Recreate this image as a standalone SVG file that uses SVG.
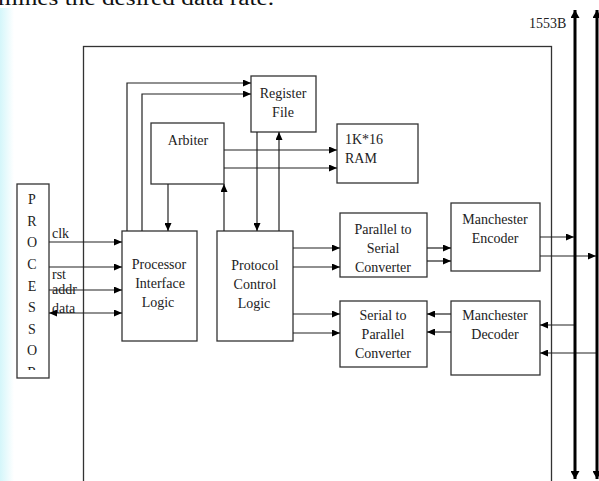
<svg xmlns="http://www.w3.org/2000/svg" width="599" height="481" viewBox="0 0 599 481">
<defs>
<marker id="ah" markerWidth="8" markerHeight="7" refX="8" refY="3.5" orient="auto-start-reverse" markerUnits="userSpaceOnUse"><path d="M0,0 L8,3.5 L0,7 Z" fill="#000"/></marker>
<marker id="bh" markerWidth="8" markerHeight="9" refX="8" refY="4.5" orient="auto-start-reverse" markerUnits="userSpaceOnUse"><path d="M0,0 L8,4.5 L0,9 Z" fill="#000"/></marker>
<linearGradient id="cy" x1="0" x2="1" y1="0" y2="0"><stop offset="0" stop-color="#d4f6fa"/><stop offset="1" stop-color="#ffffff"/></linearGradient>
<clipPath id="pc"><rect x="17" y="184" width="32" height="186"/></clipPath>
</defs>
<style>
.box{fill:#fff;stroke:#333;stroke-width:1.3}
.t{font-family:"Liberation Serif","Times New Roman",serif;font-size:14px;fill:#222;text-anchor:middle}
.tl{font-family:"Liberation Serif","Times New Roman",serif;font-size:14px;fill:#222}
.c{fill:none;stroke:#222;stroke-width:1.2}
.bus{fill:none;stroke:#000;stroke-width:3}
</style>
<rect x="0" y="8" width="14" height="473" fill="url(#cy)"/>
<text x="-2" y="5" font-family="Liberation Serif, serif" font-size="20" fill="#111" textLength="276" lengthAdjust="spacingAndGlyphs">mines the desired data rate.</text>
<rect id="outer" x="83.5" y="46.5" width="468" height="440" fill="none" stroke="#333" stroke-width="1.3"/>
<text class="tl" x="529" y="28" font-size="13">1553B</text>
<g id="processor">
<rect class="box" x="17" y="184" width="32" height="194"/>
<g clip-path="url(#pc)" class="t">
<text x="32" y="204">P</text><text x="32" y="226">R</text><text x="32" y="247">O</text><text x="32" y="269">C</text><text x="32" y="291">E</text><text x="32" y="312">S</text><text x="32" y="334">S</text><text x="32" y="355">O</text><text x="32" y="377">R</text>
</g>
</g>
<g id="pil"><rect class="box" x="122" y="231" width="75" height="110"/>
<text class="t" x="159" y="269">Processor</text><text class="t" x="160" y="288">Interface</text><text class="t" x="158" y="307">Logic</text></g>
<g id="regfile"><rect class="box" x="251" y="76" width="65" height="56"/>
<text class="t" x="283" y="98">Register</text><text class="t" x="283" y="117">File</text></g>
<g id="arbiter"><rect class="box" x="151" y="123" width="73" height="61"/>
<text class="t" x="188" y="145">Arbiter</text></g>
<g id="ram"><rect class="box" x="337" y="124" width="81" height="59"/>
<text class="tl" x="345" y="144">1K*16</text><text class="tl" x="345" y="163">RAM</text></g>
<g id="pcl"><rect class="box" x="217" y="231" width="76" height="110"/>
<text class="t" x="255" y="270">Protocol</text><text class="t" x="255" y="289">Control</text><text class="t" x="254" y="308">Logic</text></g>
<g id="p2s"><rect class="box" x="340" y="213" width="87" height="64"/>
<text class="t" x="383" y="234">Parallel to</text><text class="t" x="383" y="253">Serial</text><text class="t" x="383" y="272">Converter</text></g>
<g id="s2p"><rect class="box" x="340" y="301" width="87" height="66"/>
<text class="t" x="383" y="320">Serial to</text><text class="t" x="383" y="339">Parallel</text><text class="t" x="383" y="358">Converter</text></g>
<g id="menc"><rect class="box" x="451" y="203" width="89" height="68"/>
<text class="t" x="495" y="224">Manchester</text><text class="t" x="495" y="243">Encoder</text></g>
<g id="mdec"><rect class="box" x="451" y="301" width="89" height="74"/>
<text class="t" x="495" y="320">Manchester</text><text class="t" x="495" y="339">Decoder</text></g>
<g id="labels">
<text class="tl" x="52" y="238">clk</text><text class="tl" x="52" y="279">rst</text><text class="tl" x="52" y="294">addr</text><text class="tl" x="52" y="313">data</text>
</g>
<g id="connectors">
<path class="c" d="M49,242 H122" marker-end="url(#ah)"/>
<path class="c" d="M49,267 H122" marker-end="url(#ah)"/>
<path class="c" d="M49,290 H122" marker-end="url(#ah)"/>
<path class="c" d="M49,313 H122" marker-start="url(#ah)" marker-end="url(#ah)"/>
<path class="c" d="M127,231 V83 H251" marker-end="url(#ah)"/>
<path class="c" d="M142,231 V94 H251" marker-end="url(#ah)"/>
<path class="c" d="M168,184 V231" marker-end="url(#ah)"/>
<path class="c" d="M224,231 V184" marker-end="url(#ah)"/>
<path class="c" d="M224,150 H337" marker-end="url(#ah)"/>
<path class="c" d="M224,168 H337" marker-end="url(#ah)"/>
<path class="c" d="M257,132 V231" marker-end="url(#ah)"/>
<path class="c" d="M279,231 V132" marker-end="url(#ah)"/>
<path class="c" d="M293,248 H340" marker-end="url(#ah)"/>
<path class="c" d="M293,267 H340" marker-end="url(#ah)"/>
<path class="c" d="M293,314 H340" marker-end="url(#ah)"/>
<path class="c" d="M293,333 H340" marker-end="url(#ah)"/>
<path class="c" d="M427,248 H451" marker-end="url(#ah)"/>
<path class="c" d="M427,261 H451" marker-end="url(#ah)"/>
<path class="c" d="M451,314 H427" marker-end="url(#ah)"/>
<path class="c" d="M451,332 H427" marker-end="url(#ah)"/>
<path class="c" d="M540,237 H574" marker-end="url(#ah)"/>
<path class="c" d="M540,256 H596" marker-end="url(#ah)"/>
<path class="c" d="M575,325 H540" marker-end="url(#ah)"/>
<path class="c" d="M597,353 H540" marker-end="url(#ah)"/>
<path class="bus" d="M575,10 V479" marker-start="url(#bh)" marker-end="url(#bh)"/>
<path class="bus" d="M597,10 V479" marker-start="url(#bh)" marker-end="url(#bh)"/>
</g>
</svg>
